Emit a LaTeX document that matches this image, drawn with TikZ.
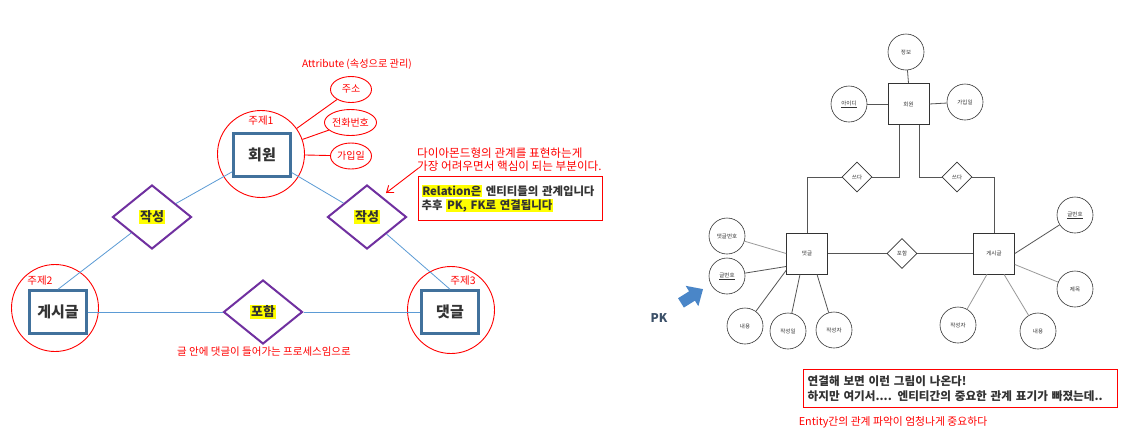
\documentclass[tikz,border=0pt]{standalone}
\usepackage{fontspec}
\setmainfont{Noto Sans CJK KR}
\usetikzlibrary{shapes.geometric,arrows.meta,calc}
\definecolor{rd}{HTML}{FF0000}
\definecolor{boxb}{HTML}{41719C}
\definecolor{purp}{HTML}{7030A0}
\definecolor{lblue}{HTML}{5B9BD5}
\definecolor{txt}{HTML}{333333}
\definecolor{hl}{HTML}{FFFF00}
\definecolor{gd}{HTML}{555555}
\definecolor{gli}{HTML}{9A9A9A}
\definecolor{pkc}{HTML}{3B5068}
\definecolor{arr}{HTML}{4A86C8}
\newcommand{\hlt}[1]{{\setlength{\fboxsep}{0.6pt}\colorbox{hl}{#1}}}
\begin{document}
\begin{tikzpicture}[x=1pt,y=-1pt,
  ent/.style={draw=boxb, line width=2.4pt, minimum width=57pt, minimum height=43pt, inner sep=0pt,
    font=\fontsize{15}{15}\selectfont\bfseries, text=txt},
  bigc/.style={circle, draw=rd, line width=0.9pt, minimum size=87pt, inner sep=0pt},
  rel/.style={diamond, draw=purp, line width=2pt, minimum width=79pt, minimum height=64pt, inner sep=0pt,
    font=\fontsize{13}{13}\selectfont\bfseries, text=txt},
  att/.style={ellipse, draw=rd, line width=0.9pt, minimum width=41pt, minimum height=26pt, inner sep=0pt,
    font=\fontsize{10}{10}\selectfont, text=rd},
  sub/.style={font=\fontsize{10.5}{10.5}\selectfont, text=rd, inner sep=0pt},
  rnote/.style={font=\fontsize{10.5}{12}\selectfont, text=rd, inner sep=0pt, align=left},
  bl/.style={draw=lblue, line width=0.8pt},
  rl/.style={draw=rd, line width=0.9pt},
  rc/.style={circle, draw=black!80, line width=0.6pt, minimum size=36pt, inner sep=0pt,
    font=\fontsize{5.5}{6}\selectfont, text=txt},
  rb/.style={draw=black!80, line width=0.7pt, minimum size=41pt, inner sep=0pt,
    font=\fontsize{5.5}{6}\selectfont, text=txt},
  rdm/.style={diamond, draw=black!80, line width=0.6pt, minimum size=30pt, inner sep=0pt,
    font=\fontsize{5.5}{6}\selectfont, text=txt},
  gl/.style={draw=gd, line width=0.8pt},
  glt/.style={draw=gli, line width=0.8pt},
  notebox/.style={draw=rd, line width=1.3pt, anchor=north west, align=left, text=txt}
]
\fill[white] (0,0) rectangle (1133,440);
\useasboundingbox (0,0) rectangle (1133,440);

% ---------- note boxes ----------
\node[notebox, minimum width=184pt, minimum height=44pt,
  text width=178pt, inner sep=3pt, font=\fontsize{11.4}{14}\selectfont\bfseries] (rbox) at (418,176)
  {\hlt{Relation은} 엔티티들의 관계입니다\\추후 \hlt{PK, FK로 연결됩니다}};
\node[notebox, minimum width=314pt, minimum height=38pt,
  text width=306pt, inner sep=4pt, font=\fontsize{11.6}{15}\selectfont\bfseries] (nbox) at (803,369)
  {연결해 보면 이런 그림이 나온다!\\하지만 여기서.... 엔티티간의 중요한 관계 표기가 빠졌는데..};

% ---------- left diagram ----------
\node[bigc] (hwc) at (261,154) {};
\node[bigc] (gsc) at (55,308) {};
\node[bigc] (dgc) at (451,310) {};
\node[ent] (hw) at (262,155) {회원};
\node[ent] (gs) at (58,312) {게시글};
\node[ent] (dg) at (450,312) {댓글};
\node[sub] (l1) at (261,121) {주제1};
\node[sub] (l2) at (40,281) {주제2};
\node[sub] (l3) at (463,281) {주제3};

\node[rel] (r1) at (152,217) {\hlt{작성}};
\node[rel] (r2) at (367,217) {\hlt{작성}};
\node[rel] (r3) at (263,312) {\hlt{포함}};

\draw[bl] (hw) -- (r1);
\draw[bl] (r1) -- (gs.north);
\draw[bl] (hw) -- (r2);
\draw[bl] (r2) -- (dg.north);
\draw[bl] (gs) -- (r3);
\draw[bl] (r3) -- (dg);

\node[font=\fontsize{10.2}{11}\selectfont, text=rd, inner sep=0pt] (attr) at (357,64) {Attribute (속성으로 관리)};
\node[att] (e1) at (351,89.5) {주소};
\node[att] (e2) at (350.5,122.5) {전화번호};
\node[att] (e3) at (351,156) {가입일};
\draw[rl] (hwc) -- (e1);
\draw[rl] (hwc) -- (e2);
\draw[rl] (hwc) -- (e3);

\node[rnote, font=\fontsize{11.6}{12.5}\selectfont, anchor=north west] (ann) at (417,148) {다이아몬드형의 관계를 표현하는게\\가장 어려우면서 핵심이 되는 부분이다.};
\coordinate (atip) at (386,193);
\draw[rl, -{Straight Barb[length=6pt,width=9pt]}] ([xshift=1pt,yshift=3pt]ann.south west) -- (atip);

\node[rnote] (btm) at (264,352) {글 안에 댓글이 들어가는 프로세스임으로};

% ---------- right diagram ----------
\node[rb] (rw) at (908.5,104) {회원};
\node[rc] (a1) at (906,52) {정보};
\node[rc] (a2) at (849,104) {\underline{아이디}};
\node[rc] (a3) at (965,102) {가입일};
\draw[gl] (rw.north) -- (a1);
\draw[gl] (rw.west) -- (a2);
\draw[gl] (rw.east) -- (a3);

\node[rdm] (sd1) at (857,177) {쓰다};
\node[rdm] (sd2) at (957,177) {쓰다};
\node[rb] (dgr) at (807,253.5) {댓글};
\node[rdm] (ph) at (902,253.5) {포함};
\node[rb] (bgr) at (994,253.5) {게시글};

\draw[gl] ([xshift=-9.5pt]rw.south) |- (sd1.east);
\draw[gl] (sd1.west) -| (dgr.north);
\draw[gl] ([xshift=10.5pt]rw.south) |- (sd2.west);
\draw[gl] (sd2.east) -| (bgr.north);
\draw[gl] (dgr.east) -- (ph.west);
\draw[gl] (ph.east) -- (bgr.west);

\node[rc] (c1) at (727,236) {댓글번호};
\node[rc] (c2) at (727,276) {\underline{글번호}};
\node[rc] (c3) at (745,326) {내용};
\node[rc] (c4) at (788,331) {작성일};
\node[rc] (c5) at (834,330) {작성자};
\draw[glt] (dgr.west) -- (c1);
\draw[gl] ([yshift=-13pt]dgr.west) -- (c2);
\draw[gl] ([yshift=4pt]dgr.south west) -- (c3);
\draw[gl] ([xshift=-7pt]dgr.south) -- (c4);
\draw[gl] ([xshift=10pt]dgr.south) -- (c5);

\node[rc] (b1) at (1075,215) {\underline{글번호}};
\node[rc] (b2) at (1075,289) {제목};
\node[rc] (b3) at (958,325) {작성자};
\node[rc] (b4) at (1038,331) {내용};
\draw[gl] (bgr.east) -- (b1);
\draw[glt] ([yshift=-11pt]bgr.east) -- (b2);
\draw[glt] ([xshift=-7pt]bgr.south) -- (b3);
\draw[glt] ([xshift=10pt]bgr.south) -- (b4);

% PK arrow
\begin{scope}[shift={(692,296)}, rotate=32]
\fill[arr] (-13,-5.5) -- (0,-5.5) -- (0,-12) -- (13,0) -- (0,12) -- (0,5.5) -- (-13,5.5) -- cycle;
\end{scope}
\node[font=\fontsize{12}{12}\selectfont\bfseries, text=pkc, inner sep=0pt] (pk) at (659,318) {PK};

\node[rnote, font=\fontsize{10.8}{12}\selectfont] (entnote) at (893,422) {Entity간의 관계 파악이 엄청나게 중요하다};
\end{tikzpicture}
\end{document}
